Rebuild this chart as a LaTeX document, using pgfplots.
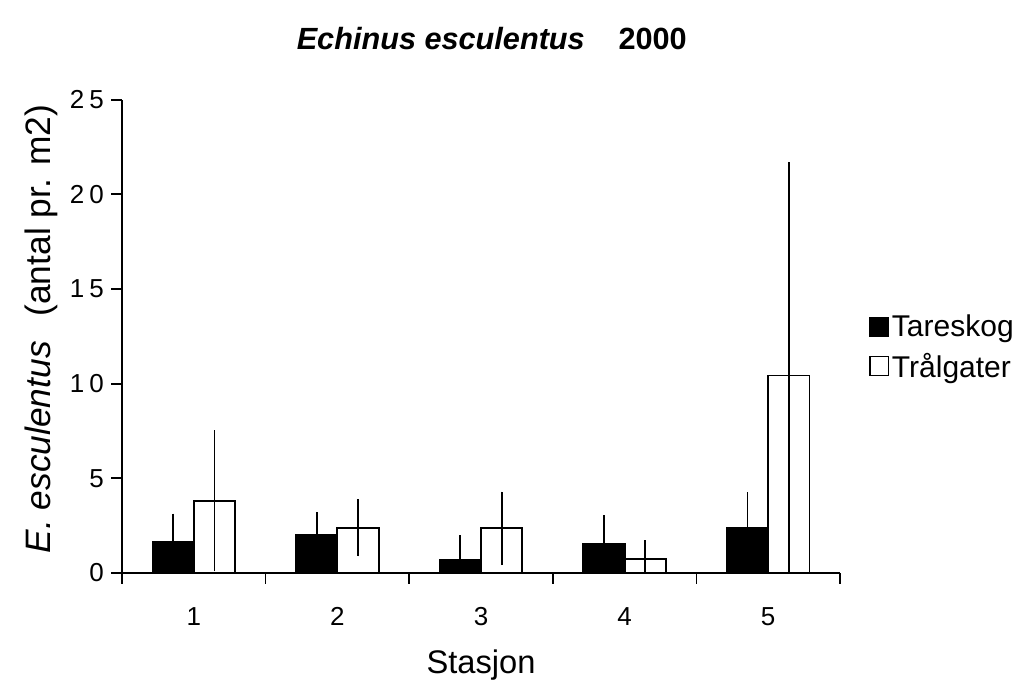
\documentclass[border=0pt]{standalone}
\usepackage{fontspec}
\setmainfont{Liberation Sans}
\usepackage{pgfplots}
\usepackage{pgfplotstable}
\pgfplotsset{compat=1.18}
\pgfplotstableread{
st black berr white werr
1 1.63 1.51 3.81 3.72
2 2.00 1.23 2.39 1.51
3 0.67 1.33 2.36 1.94
4 1.54 1.51 0.76 0.96
5 2.36 1.90 10.43 11.29
}\data
\begin{document}
\begin{tikzpicture}[x=0.75pt,y=0.75pt]
\path[use as bounding box] (-122,-117) rectangle (898,573);
\begin{axis}[
  at={(0,0)}, anchor=south west,
  scale only axis,
  width=538.5pt, height=355pt,
  xmin=0.5, xmax=5.5, ymin=0, ymax=25,
  axis lines*=left,
  axis line style={line width=1.3pt},
  every tick/.style={black, line width=1.3pt},
  tick align=outside,
  major tick length=8pt,
  xtick={0.5,1.5,2.5,3.5,4.5,5.5},
  x tick label as interval,
  xticklabels={1,2,3,4,5},
  ytick={0,5,10,15,20,25},
  yticklabels={0,5,1\hspace{0.2em}0,1\hspace{0.2em}5,2\hspace{0.2em}0,2\hspace{0.2em}5},
  tick label style={font=\fontsize{19.5}{23}\selectfont},
  xticklabel style={anchor=base, yshift=-31.5pt},
  yticklabel style={xshift=-2pt},
  ybar=0pt, bar width=31pt,
  xlabel={Stasjon},
  xlabel style={at={(axis description cs:0.5,-0.213)}, anchor=base, font=\fontsize{24.5}{28}\selectfont},
  ylabel={\textit{E. esculentus}\hspace{0.7em}(antal pr. m2)},
  ylabel style={at={(axis description cs:-0.112,0.515)}, anchor=center, font=\fontsize{26.5}{30}\selectfont},
  title={\textbf{\textit{Echinus esculentus}}\hspace{1.1em}\textbf{2000}},
  title style={at={(axis description cs:0.515,1.09)}, anchor=base, font=\fontsize{23}{28}\selectfont},
  legend style={at={(axis description cs:1.0404,0.552)}, anchor=north west, draw=none, fill=none,
    font=\fontsize{22.5}{27}\selectfont, row sep=7pt, inner sep=0pt,
    /tikz/every even column/.append style={column sep=4pt}},
  legend cell align=left,
  error bars/y dir=both, error bars/y explicit,
  error bars/error mark=none,
  error bars/error bar style={line width=1.4pt, black},
]
\addplot[fill=black, draw=black, line width=1.4pt,
  legend image code/.code={\draw[fill=black,draw=black,line width=1pt] (0pt,-7pt) rectangle (14pt,7pt);}]
  table[x=st, y=black, y error=berr] {\data};
\addplot[fill=white, draw=black, line width=1.4pt,
  legend image code/.code={\draw[fill=white,draw=black,line width=1pt] (0pt,-7pt) rectangle (14pt,7pt);}]
  table[x=st, y=white, y error=werr] {\data};
\legend{Tareskog, Trålgater}
\end{axis}
\end{tikzpicture}
\end{document}
